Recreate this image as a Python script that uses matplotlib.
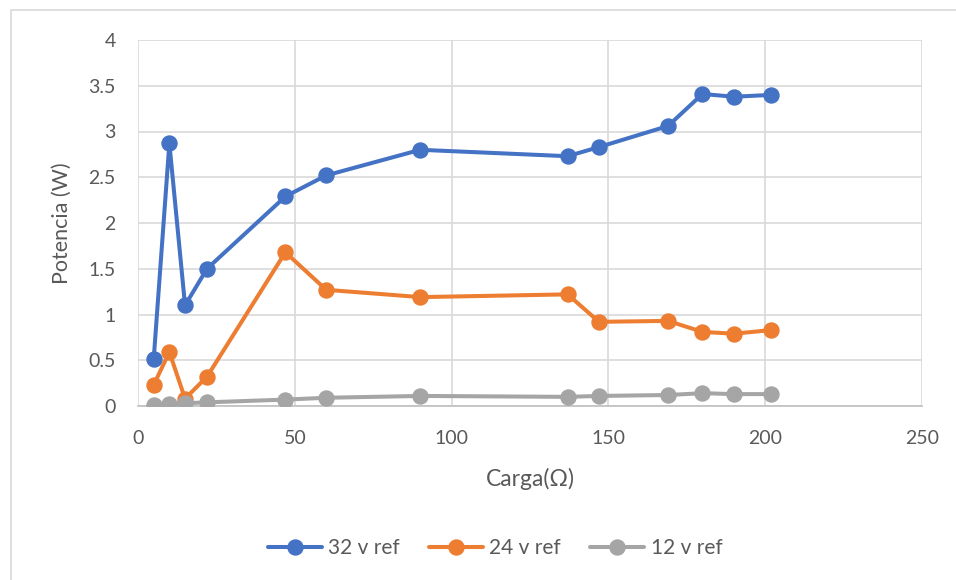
import matplotlib
matplotlib.use('Agg')
import matplotlib.pyplot as plt
from matplotlib.patches import Rectangle

# carga en ohm
carga = [5, 10, 15, 22, 47, 60, 90, 137, 147, 169, 180, 190, 202]

# potencia (W) per referentie spanning
pot_32 = [0.51, 2.87, 1.10, 1.50, 2.29, 2.52, 2.80, 2.73, 2.83, 3.06, 3.41, 3.38, 3.40]
pot_24 = [0.23, 0.59, 0.08, 0.32, 1.68, 1.27, 1.19, 1.22, 0.92, 0.93, 0.81, 0.79, 0.83]
pot_12 = [0.01, 0.02, 0.03, 0.04, 0.07, 0.09, 0.11, 0.10, 0.11, 0.12, 0.14, 0.13, 0.13]

series = [('32 v ref', pot_32, '#4472C4'),
          ('24 v ref', pot_24, '#ED7D31'),
          ('12 v ref', pot_12, '#A5A5A5')]

plt.rcParams['font.family'] = ['Lato', 'DejaVu Sans']

fig = plt.figure(figsize=(9.56, 5.80), dpi=100)
fig.patches.append(Rectangle((11 / 956, -0.1), 1.2, 1 - 10 / 580 + 0.1,
                             transform=fig.transFigure, fill=False,
                             edgecolor='#D9D9D9', linewidth=1.2))
ax = fig.add_axes([138 / 956, 1 - 406 / 580, (922 - 138) / 956, (406 - 40) / 580])

for name, vals, kleur in series:
    ax.plot(carga, vals, color=kleur, linewidth=2.9, marker='o',
            markersize=10.8, label=name, solid_capstyle='round', zorder=3)

ax.set_xlim(0, 250)
ax.set_ylim(0, 4)
ax.set_xticks(range(0, 251, 50))
ax.set_yticks([0, 0.5, 1, 1.5, 2, 2.5, 3, 3.5, 4])
ax.set_yticklabels(['0', '0.5', '1', '1.5', '2', '2.5', '3', '3.5', '4'])
ax.grid(True, color='#D9D9D9', linewidth=1.2, zorder=0)
ax.set_axisbelow(True)
for side in ['top', 'right', 'left']:
    ax.spines[side].set_visible(False)
ax.spines['bottom'].set_color('#BFBFBF')
ax.spines['bottom'].set_linewidth(1.2)
ax.tick_params(length=0, labelsize=14, labelcolor='#595959')
ax.tick_params(axis='x', pad=17)
ax.tick_params(axis='y', pad=16)

ax.set_xlabel('Carga(Ω)', fontsize=16.5, color='#595959', labelpad=15)
ax.set_ylabel('Potencia (W)', fontsize=15.5, color='#595959', labelpad=12)

fig.legend(loc='center', bbox_to_anchor=(495 / 956, 1 - 548 / 580), ncol=3,
           frameon=False, fontsize=15, labelcolor='#595959', handlelength=2.6,
           columnspacing=1.4, handletextpad=0.3)

fig.savefig('out.png', dpi=100)
